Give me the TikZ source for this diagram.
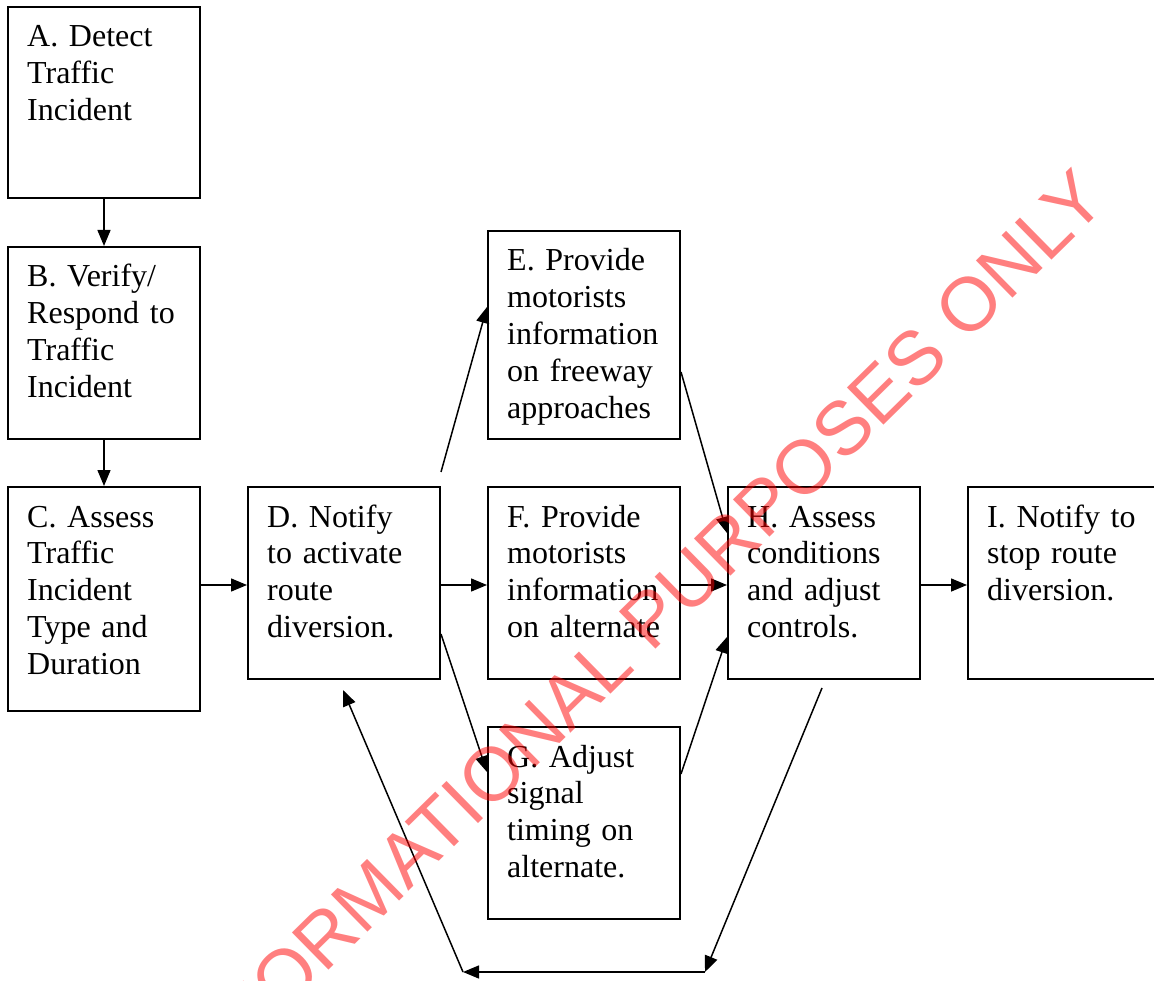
\documentclass[tikz,border=0pt]{standalone}
\usepackage{fontspec}
\setmainfont{Liberation Serif}
\newfontfamily\wmfont{Liberation Sans}
\usetikzlibrary{arrows.meta,calc}

\tikzset{
  stepbox/.style={draw, line width=2pt, rectangle, inner sep=0pt, minimum width=192pt, minimum height=191.5pt, anchor=north west},
  steptext/.style={inner sep=0pt, anchor=base west, text width=176pt, align=left,
    font={\fontsize{32}{36.8}\selectfont}},
  flow/.style={line width=1.5pt, -{Triangle[length=16pt,width=13pt]}},
  wmark/.style={inner sep=0pt, text=red, text opacity=0.5,
    font={\wmfont\fontsize{75.8}{80}\selectfont}}
}

\begin{document}
\begin{tikzpicture}[x=1pt,y=-1pt]
\useasboundingbox (0,0) rectangle (1154,981);
\clip (0,0) rectangle (1154,981);

% process boxes
\node[stepbox, minimum height=191pt] (A) at (7,6) {};
\node[stepbox] (B) at (7,246) {};
\node[stepbox, minimum height=224pt] (C) at (7,486) {};
\node[stepbox] (D) at (247,486) {};
\node[stepbox, minimum height=207.5pt] (E) at (487,230) {};
\node[stepbox] (F) at (487,486) {};
\node[stepbox] (G) at (487,726) {};
\node[stepbox] (H) at (727,486) {};
\node[stepbox] (I) at (967,486) {};

% box captions
\node[steptext] (At) at ($(A.north west)+(20,41)$) {A. Detect\\Traffic\\Incident};
\node[steptext] (Bt) at ($(B.north west)+(20,41)$) {B. Verify/\\Respond to\\Traffic\\Incident};
\node[steptext] (Ct) at ($(C.north west)+(20,41)$) {C. Assess\\Traffic\\Incident\\Type and\\Duration};
\node[steptext] (Dt) at ($(D.north west)+(20,41)$) {D. Notify\\to activate\\route\\diversion.};
\node[steptext] (Et) at ($(E.north west)+(20,41)$) {E. Provide\\motorists\\information\\on freeway\\approaches};
\node[steptext] (Ft) at ($(F.north west)+(20,41)$) {F. Provide\\motorists\\information\\on alternate};
\node[steptext] (Gt) at ($(G.north west)+(20,41)$) {G. Adjust\\signal\\timing on\\alternate.};
\node[steptext] (Ht) at ($(H.north west)+(20,41)$) {H. Assess\\conditions\\and adjust\\controls.};
\node[steptext] (It) at ($(I.north west)+(20,41)$) {I. Notify to\\stop route\\diversion.};

% main flow
\draw[flow] (A.south) -- (B.north);
\draw[flow] (B.south) -- (C.north);
\draw[flow] ($(C.north east)+(0,99)$) -- ($(D.north west)+(0,99)$);
\draw[flow] ($(D.north east)+(0,99)$) -- ($(F.north west)+(0,99)$);
\draw[flow] ($(F.north east)+(0,99)$) -- ($(H.north west)+(0,99)$);
\draw[flow] ($(H.north east)+(0,99)$) -- ($(I.north west)+(0,99)$);

% branches through E and G
\draw[flow] ($(D.north east)+(0,-14)$) -- ($(E.north west)+(0,77)$);
\draw[flow] ($(E.north east)+(0,142)$) -- ($(H.north west)+(0,47)$);
\draw[flow] ($(D.north east)+(0,148)$) -- ($(G.north west)+(0,46)$);
\draw[flow] ($(G.north east)+(0,48)$) -- ($(H.north west)+(0,151)$);

% feedback loop from H back to D
\coordinate (br) at (705,972);
\coordinate (bl) at (463,972);
\draw[flow] ($(H.south west)+(95,8.5)$) -- (br);
\draw[flow] (br) -- (bl);
\draw[flow] (bl) -- ($(D.south west)+(96,10.5)$);

% watermark
\node[wmark, anchor=base east, rotate=44.5] (wm) at (1110,203) {INFORMATIONAL PURPOSES ONLY};
\end{tikzpicture}
\end{document}
